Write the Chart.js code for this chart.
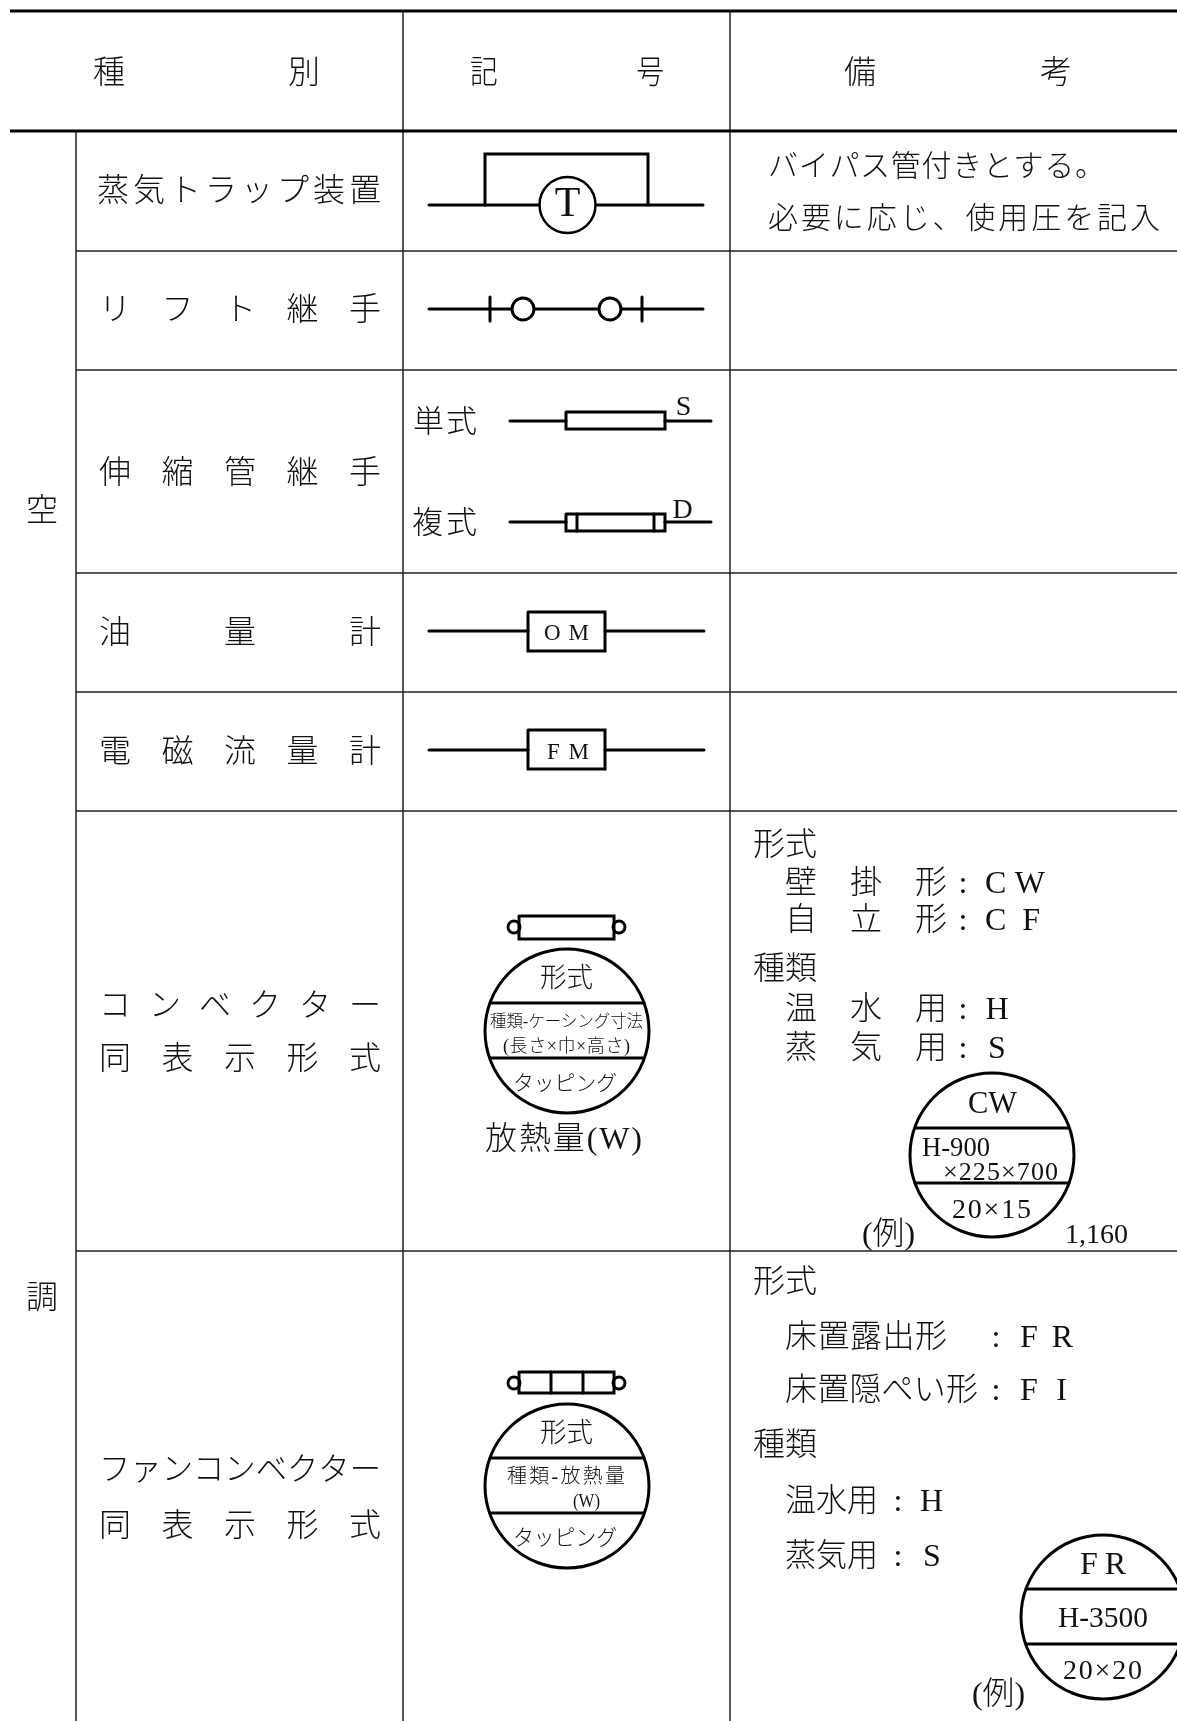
<!DOCTYPE html>
<html lang="ja">
<head>
<meta charset="utf-8">
<style>
  html, body { margin: 0; padding: 0; background: #fff; }
  canvas { display: block; }
</style>
<script src="https://cdn.jsdelivr.net/npm/chart.js@4"></script>
</head>
<body>
<canvas id="sheet" width="1177" height="1721"></canvas>
<script>
// table rules, in sheet units (y grows downward)
const headRules = [11, 131];
const rowRules = [251, 370, 573, 692, 811, 1251];
const colRules = [76, 403, 730];

// texts
const headerLabels = ['種　　　　　別', '記　　　　　号', '備　　　　　考'];
const categoryLabels = ['空', '調', '蒸気トラップ装置', 'リフト継手', '伸縮管継手', '油量計', '電磁流量計',
  'コンベクター', '同表示形式', 'ファンコンベクター', '同表示形式'];
const symbolLabels = ['T', '単式', 'S', '複式', 'D', 'OM', 'FM',
  '形式', '種類-ケーシング寸法', '(長さ×巾×高さ)', 'タッピング', '放熱量(W)',
  '形式', '種類-放熱量', '(W)', 'タッピング'];
const remarkLabels = ['バイパス管付きとする。', '必要に応じ、使用圧を記入',
  '形式', '壁　掛　形', ':', 'CW', '自　立　形', ':', 'CF', '種類', '温　水　用', ':', 'H', '蒸　気　用', ':', 'S',
  'CW', 'H-900', '×225×700', '20×15', '(例)', '1,160',
  '形式', '床置露出形', ':', 'FR', '床置隠ぺい形', ':', 'FI', '種類', '温水用', ':', 'H', '蒸気用', ':', 'S',
  'FR', 'H-3500', '20×20', '(例)'];

// [left, right, middle y, font size], same order as the texts above
const headerBoxes = [[93, 320, 72, 32], [470, 664, 72, 32], [844, 1072, 72, 32]];
const categoryBoxes = [[26, 58, 510, 32], [26, 58, 1297, 32],
  [97, 381, 190, 32], [99, 381, 309, 32], [99, 381, 472, 32], [99, 381, 632, 32], [99, 381, 751, 32],
  [99, 381, 1005, 32], [99, 381, 1058, 32], [99, 381, 1469, 32], [99, 381, 1525, 32]];
const symbolBoxes = [[553, 582, 202, 42], [413, 477, 421, 31], [674, 693, 405, 28], [412, 477, 522, 31], [672, 693, 508, 28],
  [544, 589, 631, 23], [547, 589, 750, 23],
  [540, 593, 977, 27], [490, 643, 1020, 17], [503, 630, 1045, 18], [513, 617, 1082, 21], [485, 642, 1138, 32],
  [540, 593, 1432, 27], [507, 625, 1475, 20], [573, 600, 1500, 18], [513, 617, 1537, 22]];
const remarkBoxes = [[768, 1105, 166, 30], [768, 1160, 218, 30],
  [753, 817, 844, 32], [785, 947, 882, 32], [955, 971, 882, 32], [985, 1045, 882, 32], [785, 947, 919, 32], [955, 971, 919, 32], [985, 1040, 919, 32],
  [753, 817, 968, 32], [785, 947, 1008, 32], [955, 971, 1008, 32], [985, 1009, 1008, 32], [785, 947, 1047, 32], [955, 971, 1047, 32], [988, 1006, 1047, 32],
  [968, 1017, 1102, 32], [922, 990, 1146, 27], [943, 1058, 1171, 26], [952, 1031, 1208, 28], [862, 915, 1233, 32], [1065, 1128, 1233, 28],
  [753, 817, 1281, 32], [785, 947, 1336, 32], [988, 1004, 1336, 32], [1020, 1073, 1336, 32], [785, 978, 1389, 32], [988, 1004, 1389, 32], [1020, 1067, 1389, 32],
  [753, 817, 1444, 32], [785, 878, 1500, 32], [890, 906, 1500, 32], [919, 944, 1500, 32], [785, 878, 1555, 32], [890, 906, 1555, 32], [923, 941, 1555, 32],
  [1080, 1126, 1563, 32], [1058, 1148, 1617, 30], [1063, 1142, 1669, 28], [972, 1025, 1693, 32]];

// symbol strokes: each entry is one polyline of [x, y]
const symbolLines = [
  // steam trap
  [[429, 205], [539, 205]], [[596, 205], [703, 205]], [[485, 205], [485, 154], [648, 154], [648, 205]],
  // lift joint
  [[429, 309], [511, 309]], [[535, 309], [598, 309]], [[622, 309], [703, 309]], [[490, 297], [490, 321]], [[642, 297], [642, 321]],
  // expansion joints
  [[510, 421], [566, 421]], [[665, 421], [711, 421]], [[566, 412], [665, 412], [665, 429], [566, 429], [566, 412]],
  [[510, 522], [566, 522]], [[665, 522], [711, 522]], [[566, 514], [665, 514], [665, 531], [566, 531], [566, 514]],
  [[577, 514], [577, 531]], [[654, 514], [654, 531]],
  // oil meter, flow meter
  [[429, 631], [528, 631]], [[605, 631], [704, 631]], [[528, 612], [605, 612], [605, 651], [528, 651], [528, 612]],
  [[429, 750], [528, 750]], [[605, 750], [704, 750]], [[528, 730], [605, 730], [605, 769], [528, 769], [528, 730]],
  // convector plan
  [[519, 916], [614, 916], [614, 939], [519, 939], [519, 916]],
  [[490, 1003], [644, 1003]], [[490, 1058], [644, 1058]],
  // convector example
  [[915, 1128], [1069, 1128]], [[915, 1183], [1069, 1183]],
  // fan convector plan
  [[519, 1372], [614, 1372], [614, 1393], [519, 1393], [519, 1372]], [[551, 1372], [551, 1393]], [[583, 1372], [583, 1393]],
  [[490, 1458], [644, 1458]], [[490, 1513], [644, 1513]],
  // fan convector example
  [[1026, 1589], [1177, 1589]], [[1026, 1644], [1177, 1644]]
];

// ring centres, grouped by size
const smallRings = [[523, 309], [610, 309]];
const lugRings = [[514, 927], [619, 927], [514, 1383], [619, 1383]];
const trapRings = [[567.5, 205]];
const tagRings = [[567, 1031], [992, 1155], [567, 1486], [1103, 1617]];

function toPoints(pairs) {
  return pairs.map(p => ({ x: p[0], y: p[1] }));
}

function lineSet(pairs, width, color, cap) {
  return {
    data: toPoints(pairs),
    showLine: true,
    borderColor: color,
    borderWidth: width,
    borderCapStyle: cap,
    borderJoinStyle: 'miter',
    pointRadius: 0,
    tension: 0,
    clip: false
  };
}

function ringSet(pairs, radius, width) {
  return {
    data: toPoints(pairs),
    showLine: false,
    pointStyle: 'circle',
    pointRadius: radius,
    pointBorderWidth: width,
    pointBorderColor: '#000',
    pointBackgroundColor: 'rgba(0,0,0,0)',
    clip: false
  };
}

const datasets = [];
headRules.forEach(y => datasets.push(lineSet([[10, y], [1177, y]], 3, '#000', 'butt')));
rowRules.forEach(y => datasets.push(lineSet([[76, y], [1177, y]], 1.5, '#222', 'butt')));
datasets.push(lineSet([[colRules[0], headRules[1]], [colRules[0], 1721]], 1.5, '#222', 'butt'));
datasets.push(lineSet([[colRules[1], headRules[0]], [colRules[1], 1721]], 1.5, '#222', 'butt'));
datasets.push(lineSet([[colRules[2], headRules[0]], [colRules[2], 1721]], 1.5, '#222', 'butt'));
symbolLines.forEach(l => datasets.push(lineSet(l, 3, '#000', 'round')));
datasets.push(ringSet(smallRings, 11, 3));
datasets.push(ringSet(lugRings, 6, 3));
datasets.push(ringSet(trapRings, 28, 2.5));
datasets.push(ringSet(tagRings, 82, 3));

const FONT = '"Liberation Serif", "Noto Sans CJK JP", serif';
const TEXT_DROP = 2.5; // canvas "middle" sits a little high for these fonts

const textPlugin = {
  id: 'sheetText',
  afterDatasetsDraw(chart) {
    const { ctx, scales } = chart;
    const groups = [[headerLabels, headerBoxes], [categoryLabels, categoryBoxes], [symbolLabels, symbolBoxes], [remarkLabels, remarkBoxes]];
    ctx.save();
    ctx.fillStyle = '#111';
    ctx.textBaseline = 'middle';
    ctx.textAlign = 'left';
    groups.forEach(([texts, boxes]) => {
      texts.forEach((text, i) => {
        const [left, right, mid, size] = boxes[i];
        const x0 = scales.x.getPixelForValue(left);
        const x1 = scales.x.getPixelForValue(right);
        const y = scales.y.getPixelForValue(mid) + TEXT_DROP;
        ctx.font = '300 ' + size + 'px ' + FONT;
        ctx.letterSpacing = '0px';
        const natural = ctx.measureText(text).width;
        const target = x1 - x0;
        if (natural > target) {
          ctx.fillText(text, x0, y, target);
        } else if (text.length > 1) {
          ctx.letterSpacing = ((target - natural) / (text.length - 1)) + 'px';
          ctx.fillText(text, x0, y);
        } else {
          ctx.fillText(text, x0 + (target - natural) / 2, y);
        }
      });
    });
    ctx.restore();
  }
};

new Chart(document.getElementById('sheet').getContext('2d'), {
  type: 'scatter',
  data: { datasets },
  plugins: [textPlugin],
  options: {
    responsive: false,
    animation: false,
    layout: { autoPadding: false, padding: 0 },
    plugins: { legend: { display: false }, tooltip: { enabled: false } },
    scales: {
      x: { type: 'linear', min: 0, max: 1177, display: false },
      y: { type: 'linear', min: 0, max: 1721, reverse: true, display: false }
    }
  }
});
</script>
</body>
</html>
